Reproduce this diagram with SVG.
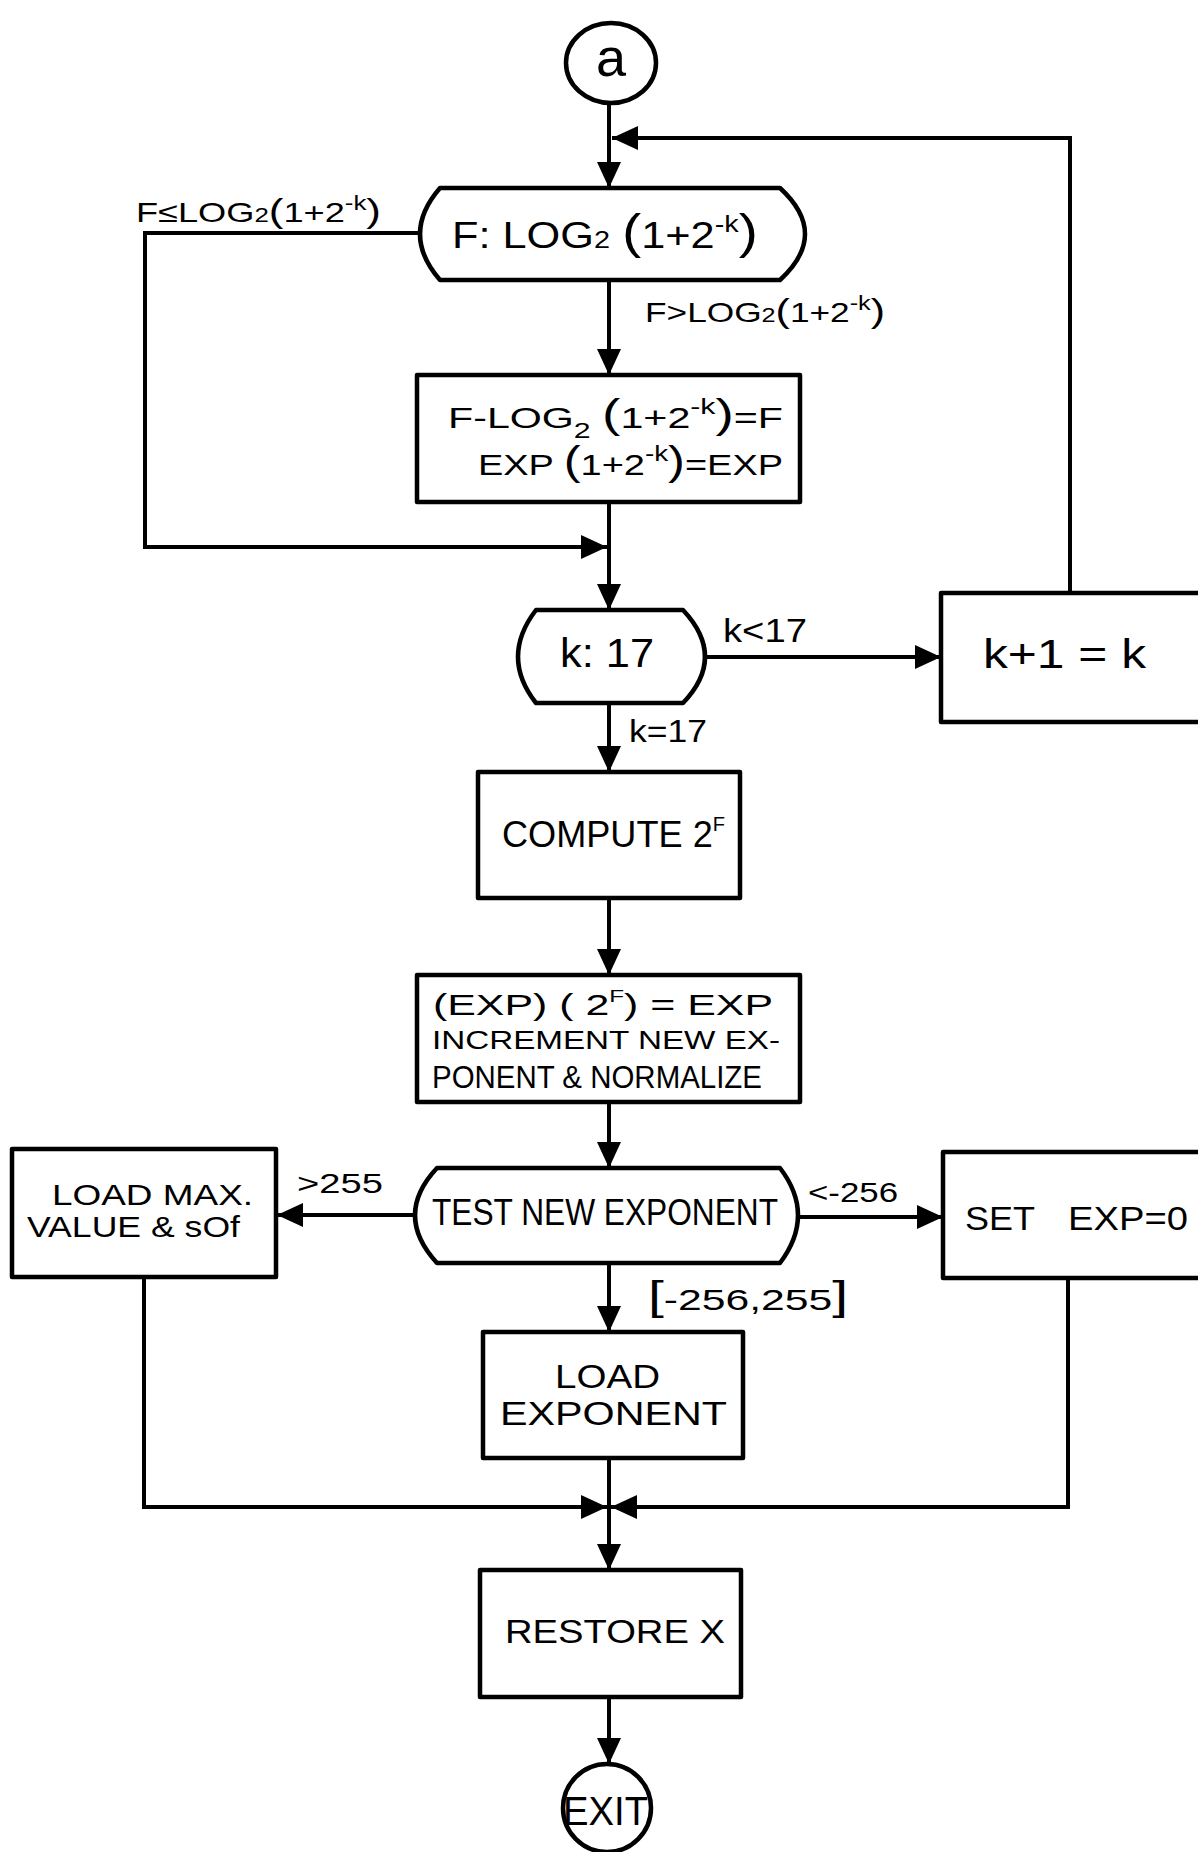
<svg xmlns="http://www.w3.org/2000/svg" width="1198" height="1852" viewBox="0 0 1198 1852">
<style>
.shape{fill:#fff;stroke:#000;stroke-width:4.5;stroke-linejoin:round}
.conn{fill:none;stroke:#000;stroke-width:4;marker-end:url(#ah)}
text{font-family:"Liberation Sans",Arial,sans-serif;fill:#000}
.s{font-size:28px}
</style>
<defs>
<marker id="ah" markerUnits="userSpaceOnUse" markerWidth="26" markerHeight="24" refX="26" refY="12" orient="auto">
<path d="M0,0 L26,12 L0,24 Z" fill="#000"/>
</marker>
</defs>
<rect x="0" y="0" width="1198" height="1852" fill="#fff"/>
<g id="connectors">
<path class="conn" d="M609,103 L609,188"/>
<path class="conn" d="M1070,593 L1070,138 L612,138"/>
<path class="conn" d="M609,280 L609,375"/>
<path class="conn" d="M420,233 L145,233 L145,547 L607,547"/>
<path class="conn" d="M609,502 L609,610"/>
<path class="conn" d="M705,657 L941,657"/>
<path class="conn" d="M609,703 L609,772"/>
<path class="conn" d="M609,898 L609,975"/>
<path class="conn" d="M609,1102 L609,1168"/>
<path class="conn" d="M415,1215 L277,1215"/>
<path class="conn" d="M798,1217 L943,1217"/>
<path class="conn" d="M609,1263 L609,1332"/>
<path class="conn" d="M144,1277 L144,1507 L607,1507"/>
<path class="conn" d="M1068,1278 L1068,1507 L611,1507"/>
<path class="conn" d="M609,1458 L609,1570"/>
<path class="conn" d="M609,1697 L609,1764"/>
<text class="s" x="136" y="222" textLength="245" lengthAdjust="spacingAndGlyphs">F≤LOG<tspan font-size="20">2</tspan><tspan font-size="34">(</tspan>1+2<tspan y="210" font-size="20">-k</tspan><tspan y="222" font-size="34">)</tspan></text>
<text class="s" x="645" y="322" textLength="240" lengthAdjust="spacingAndGlyphs">F&gt;LOG<tspan font-size="20">2</tspan><tspan font-size="34">(</tspan>1+2<tspan y="310" font-size="20">-k</tspan><tspan y="322" font-size="34">)</tspan></text>
<text x="723" y="642" font-size="34" textLength="84" lengthAdjust="spacingAndGlyphs">k&lt;17</text>
<text x="629" y="742" font-size="32" textLength="78" lengthAdjust="spacingAndGlyphs">k=17</text>
<text class="s" x="297" y="1193" textLength="86" lengthAdjust="spacingAndGlyphs">&gt;255</text>
<text class="s" x="808" y="1202" textLength="90" lengthAdjust="spacingAndGlyphs">&lt;-256</text>
<text x="648" y="1310" font-size="30" textLength="200" lengthAdjust="spacingAndGlyphs"><tspan font-size="40">[</tspan>-256,255<tspan font-size="40">]</tspan></text>
</g>
<g id="start">
<ellipse class="shape" cx="611" cy="63" rx="45" ry="40"/>
<text x="611" y="76" font-size="54" text-anchor="middle">a</text>
</g>
<g id="test-f">
<path class="shape" d="M440,188 L780,188 Q830,234 780,280 L440,280 Q400,234 440,188 Z"/>
<text x="452" y="248" font-size="36" textLength="306" lengthAdjust="spacingAndGlyphs">F: LOG<tspan font-size="24">2</tspan> <tspan font-size="48">(</tspan>1+2<tspan y="232" font-size="24">-k</tspan><tspan y="248" font-size="48">)</tspan></text>
</g>
<g id="update-f">
<rect class="shape" x="417" y="375" width="383" height="127"/>
<text x="448" y="428" font-size="30" textLength="335" lengthAdjust="spacingAndGlyphs">F-LOG<tspan y="438" font-size="22">2</tspan><tspan y="428"> </tspan><tspan font-size="40">(</tspan>1+2<tspan y="414" font-size="22">-k</tspan><tspan y="428" font-size="40">)</tspan>=F</text>
<text x="478" y="475" font-size="30" textLength="305" lengthAdjust="spacingAndGlyphs">EXP <tspan font-size="40">(</tspan>1+2<tspan y="461" font-size="22">-k</tspan><tspan y="475" font-size="40">)</tspan>=EXP</text>
</g>
<g id="test-k">
<path class="shape" d="M536,610 L683,610 Q727,657 683,703 L536,703 Q500,657 536,610 Z"/>
<text x="560" y="667" font-size="40" textLength="94" lengthAdjust="spacingAndGlyphs">k: 17</text>
</g>
<g id="inc-k">
<rect class="shape" x="941" y="593" width="300" height="129"/>
<text x="983" y="668" font-size="40" textLength="163" lengthAdjust="spacingAndGlyphs">k+1 = k</text>
</g>
<g id="compute">
<rect class="shape" x="478" y="772" width="262" height="126"/>
<text x="502" y="847" font-size="36" textLength="223" lengthAdjust="spacingAndGlyphs">COMPUTE 2<tspan y="831" font-size="20">F</tspan></text>
</g>
<g id="normalize">
<rect class="shape" x="417" y="975" width="383" height="127"/>
<text x="433" y="1015" font-size="30" textLength="340" lengthAdjust="spacingAndGlyphs">(EXP) ( 2<tspan y="1002" font-size="17">F</tspan><tspan y="1015">) = EXP</tspan></text>
<text x="432" y="1049" font-size="26" textLength="348" lengthAdjust="spacingAndGlyphs">INCREMENT NEW EX-</text>
<text x="432" y="1088" font-size="31" textLength="330" lengthAdjust="spacingAndGlyphs">PONENT &amp; NORMALIZE</text>
</g>
<g id="test-exp">
<path class="shape" d="M437,1168 L780,1168 Q816,1215 780,1263 L437,1263 Q393,1215 437,1168 Z"/>
<text x="432" y="1225" font-size="36" textLength="346" lengthAdjust="spacingAndGlyphs">TEST NEW EXPONENT</text>
</g>
<g id="load-max">
<rect class="shape" x="12" y="1149" width="264" height="128"/>
<text x="52" y="1205" font-size="30" textLength="201" lengthAdjust="spacingAndGlyphs">LOAD MAX.</text>
<text x="27" y="1237" font-size="30" textLength="213" lengthAdjust="spacingAndGlyphs">VALUE &amp; sOf</text>
</g>
<g id="set-exp">
<rect class="shape" x="943" y="1152" width="300" height="126"/>
<text x="965" y="1230" font-size="34" textLength="70" lengthAdjust="spacingAndGlyphs">SET</text>
<text x="1068" y="1230" font-size="34" textLength="120" lengthAdjust="spacingAndGlyphs">EXP=0</text>
</g>
<g id="load-exp">
<rect class="shape" x="483" y="1332" width="260" height="126"/>
<text x="555" y="1388" font-size="34" textLength="105" lengthAdjust="spacingAndGlyphs">LOAD</text>
<text x="500" y="1425" font-size="34" textLength="227" lengthAdjust="spacingAndGlyphs">EXPONENT</text>
</g>
<g id="restore">
<rect class="shape" x="480" y="1570" width="261" height="127"/>
<text x="505" y="1643" font-size="34" textLength="220" lengthAdjust="spacingAndGlyphs">RESTORE X</text>
</g>
<g id="exit">
<circle class="shape" cx="607" cy="1808" r="44"/>
<text x="563" y="1825" font-size="40" textLength="85" lengthAdjust="spacingAndGlyphs">EXIT</text>
</g>
</svg>
